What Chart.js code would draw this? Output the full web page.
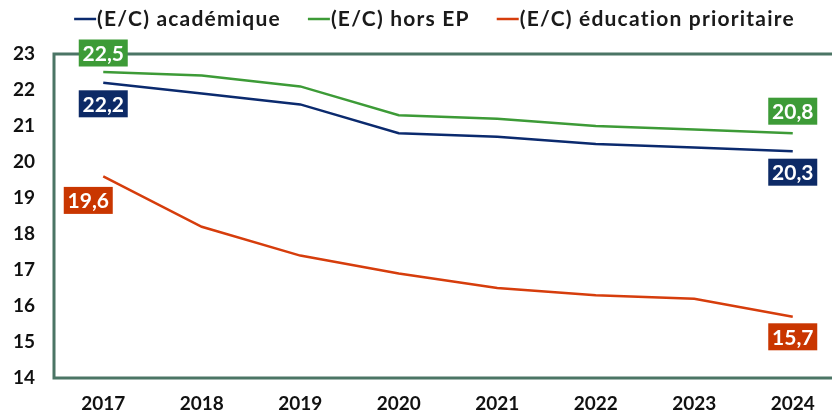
<!DOCTYPE html>
<html>
<head>
<meta charset="utf-8">
<script src="https://cdn.jsdelivr.net/npm/chart.js@4"></script>
<style>
  html, body { margin: 0; padding: 0; background: #fff; overflow: hidden; }
  #wrap { width: 832px; height: 412px; overflow: hidden; position: relative; }
  canvas { display: block; }
</style>
</head>
<body>
<div id="wrap"><canvas id="c" width="842" height="412"></canvas></div>
<script>
const years = ['2017', '2018', '2019', '2020', '2021', '2022', '2023', '2024'];
const academique = [22.2, 21.9, 21.6, 20.8, 20.7, 20.5, 20.4, 20.3];
const horsEP = [22.5, 22.4, 22.1, 21.3, 21.2, 21.0, 20.9, 20.8];
const educPrioritaire = [19.6, 18.2, 17.4, 16.9, 16.5, 16.3, 16.2, 15.7];
const seriesNames = ['(E/C) académique', '(E/C) hors EP', '(E/C) éducation prioritaire'];
const yTicks = [14, 15, 16, 17, 18, 19, 20, 21, 22, 23];

const colBlue = '#0b2a6e';
const colGreen = '#3d9b37';
const colOrange = '#d63d0c';
const boxBlue = '#0d2a66';
const boxGreen = '#3d9b37';
const boxOrange = '#c93600';
const frameCol = '#4b7565';
const FONT = 'Lato, "DejaVu Sans", sans-serif';

const fmt = v => v.toFixed(1).replace('.', ',');

// offsets of the value boxes relative to their point: [dsIndex, pointIndex, dx, dy, boxColor]
const valueBoxes = [
  [1, 0, 0, -19, boxGreen],
  [0, 0, 0, 21, boxBlue],
  [2, 0, -15, 24, boxOrange],
  [1, 7, 0, -22, boxGreen],
  [0, 7, 0, 21, boxBlue],
  [2, 7, 0, 20, boxOrange]
];

const framePlugin = {
  id: 'frame',
  beforeDatasetsDraw(chart) {
    const a = chart.chartArea, ctx = chart.ctx;
    ctx.save();
    ctx.strokeStyle = frameCol;
    ctx.lineWidth = 3;
    ctx.strokeRect(a.left, a.top, a.right - a.left, a.bottom - a.top);
    ctx.restore();
  }
};

const labelPlugin = {
  id: 'valueBoxes',
  afterDatasetsDraw(chart) {
    const ctx = chart.ctx;
    const xs = chart.scales.x, ys = chart.scales.y;
    ctx.save();
    ctx.font = 'bold 21px ' + FONT;
    ctx.textAlign = 'center';
    ctx.textBaseline = 'middle';
    valueBoxes.forEach(([d, i, dx, dy, col]) => {
      const v = chart.data.datasets[d].data[i];
      const cx = xs.getPixelForValue(i) + dx;
      const cy = ys.getPixelForValue(v) + dy;
      const w = 49, h = 27;
      ctx.fillStyle = col;
      ctx.fillRect(cx - w / 2, cy - h / 2, w, h);
      ctx.fillStyle = '#ffffff';
      ctx.fillText(fmt(v), cx, cy + 1);
    });
    ctx.restore();
  }
};

const legendPlugin = {
  id: 'lineLegend',
  afterDraw(chart) {
    const ctx = chart.ctx;
    ctx.save();
    ctx.font = 'bold 21px ' + FONT;
    if ('letterSpacing' in ctx) ctx.letterSpacing = '1.2px';
    ctx.textBaseline = 'middle';
    ctx.textAlign = 'left';
    const lineW = 22, gap = 28, y = 19;
    const items = chart.data.datasets.map(ds => ({ t: ds.label, c: ds.borderColor, w: ctx.measureText(ds.label).width }));
    const total = items.reduce((s, it) => s + lineW + it.w, 0) + gap * (items.length - 1);
    let x = 434 - total / 2;
    items.forEach(it => {
      ctx.strokeStyle = it.c;
      ctx.lineWidth = 2.5;
      ctx.beginPath();
      ctx.moveTo(x, y);
      ctx.lineTo(x + lineW, y);
      ctx.stroke();
      ctx.fillStyle = '#1a1a1a';
      ctx.fillText(it.t, x + lineW + 1, y);
      x += lineW + it.w + gap;
    });
    ctx.restore();
  }
};

new Chart(document.getElementById('c'), {
  type: 'line',
  data: {
    labels: years,
    datasets: [
      { label: seriesNames[0], data: academique, borderColor: colBlue, backgroundColor: colBlue },
      { label: seriesNames[1], data: horsEP, borderColor: colGreen, backgroundColor: colGreen },
      { label: seriesNames[2], data: educPrioritaire, borderColor: colOrange, backgroundColor: colOrange }
    ]
  },
  options: {
    responsive: false,
    animation: false,
    devicePixelRatio: 1,
    layout: { padding: { top: 54, left: 0, right: 0, bottom: 0 } },
    elements: {
      line: { borderWidth: 2.5, tension: 0 },
      point: { radius: 0, hoverRadius: 0 }
    },
    plugins: {
      legend: { display: false },
      tooltip: { enabled: false }
    },
    scales: {
      x: {
        type: 'category',
        offset: true,
        grid: { display: false, drawTicks: false },
        border: { display: false },
        ticks: { color: '#111', font: { family: FONT, size: 19, weight: 'bold' }, padding: 14, maxRotation: 0 },
        afterFit(s) { s.height = 34; }
      },
      y: {
        min: 14, max: 23,
        grid: { display: false, drawTicks: false },
        border: { display: false },
        afterBuildTicks(s) { s.ticks = yTicks.map(v => ({ value: v })); },
        ticks: { color: '#111', font: { family: FONT, size: 19, weight: 'bold' }, padding: 19 },
        afterFit(s) { s.width = 54; }
      }
    }
  },
  plugins: [framePlugin, labelPlugin, legendPlugin]
});
</script>
</body>
</html>
